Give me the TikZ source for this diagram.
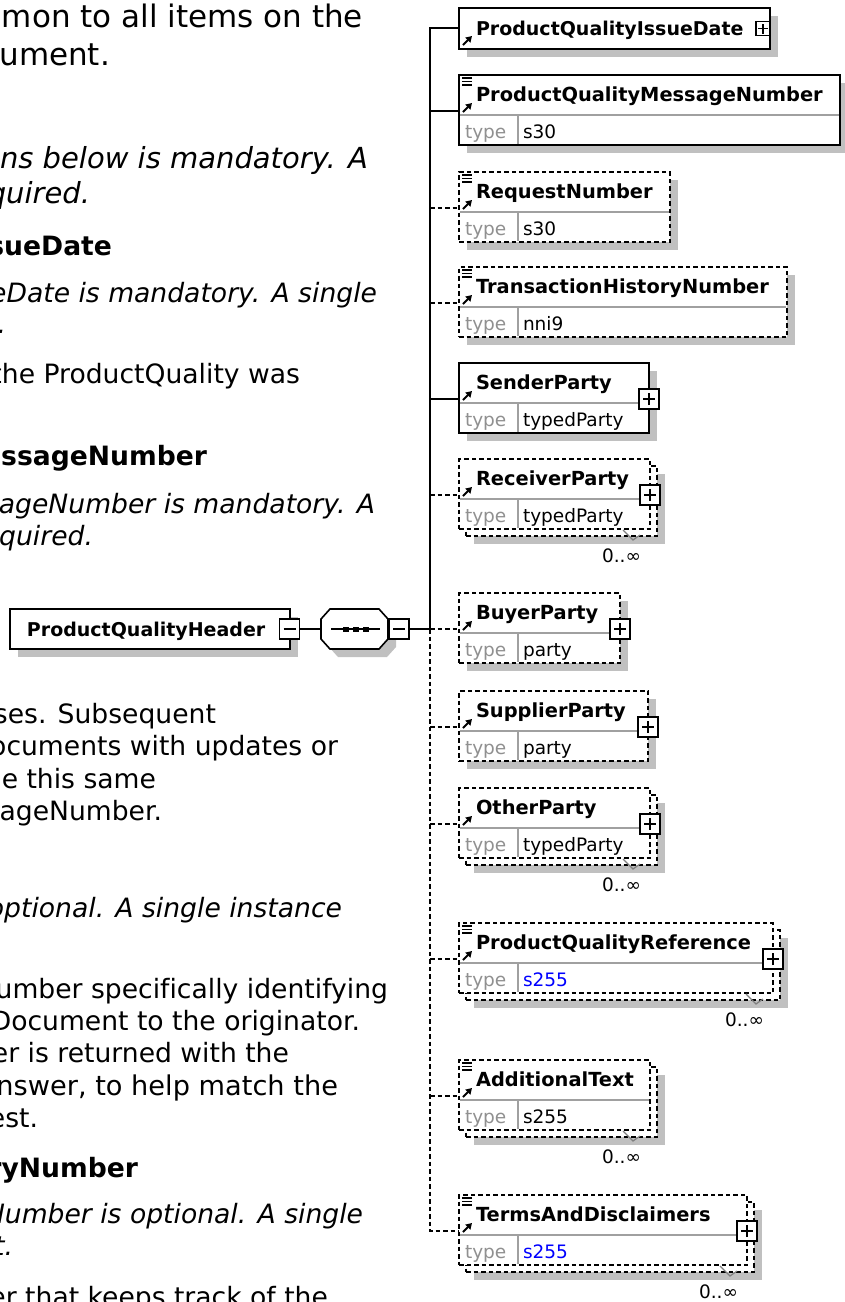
\documentclass[tikz,border=0pt]{standalone}
\usepackage{fontspec}
\setmainfont{DejaVu Sans}[Ligatures=NoCommon]
\usetikzlibrary{arrows.meta}
\definecolor{shadowc}{HTML}{C0C0C0}
\definecolor{divc}{HTML}{A0A0A0}
\definecolor{tickc}{HTML}{808080}
\definecolor{typec}{HTML}{909090}
\definecolor{bluec}{HTML}{0000FF}
\tikzset{
  every node/.style={inner sep=0pt, outer sep=0pt},
  solidb/.style={draw=black, line width=1.8pt, fill=white},
  dashb/.style={draw=black, line width=1.6pt, fill=white, dash pattern=on 4.5pt off 3pt},
  conn/.style={draw=black, line width=1.8pt},
  dconn/.style={draw=black, line width=1.8pt, dash pattern=on 4.5pt off 3pt},
  divline/.style={draw=divc, line width=1.3pt},
  vtick/.style={draw=tickc, line width=1.2pt},
  nametext/.style={anchor=base west, font=\fontsize{19.4}{22}\selectfont\bfseries},
  typetext/.style={anchor=base west, font=\fontsize{18.5}{22}\selectfont, text=typec},
  valtext/.style={anchor=base west, font=\fontsize{18.5}{22}\selectfont},
  occtext/.style={anchor=base east, font=\fontsize{18.5}{22}\selectfont},
  pmbox/.style={draw=black, line width=1.4pt, fill=white, minimum size=20pt},
  pmsign/.style={draw=black, line width=1.4pt},
  refarrow/.style={draw=black, line width=2pt, -{Triangle[length=6pt,width=7pt]}},
  eqicon/.style={draw=black, line width=1.1pt},
  bodyr/.style={anchor=base east, font=\fontsize{26.6}{32}\selectfont},
  bodyi/.style={anchor=base east, font=\fontsize{26.6}{32}\selectfont\itshape},
  bodyb/.style={anchor=base east, font=\fontsize{26.6}{32}\selectfont\bfseries},
}
% element box with name row and type row
\newcommand{\TwoRow}[6]{%
  \node[#4, anchor=north west, minimum width={#3-459}, minimum height=70] (#1) at (459,#2) {};
  \draw[divline] (460,#2+40) -- (#3-1,#2+40);
  \draw[divline] (518,#2+40) -- (518,#2+69);
  \node[nametext] (#1-n) at (476,#2+26) {#5};
  \node[typetext] (#1-t) at (465,#2+63) {type};
  \node[valtext] (#1-v) at (523,#2+63) {#6};
  \draw[refarrow] (463,#2+37) -- (472,#2+28);
}
\newcommand{\BackBox}[4]{%
  \fill[shadowc] (474,#2+15) rectangle (#3+15,#2+85);
  \node[#4, anchor=north west, minimum width={#3-459}, minimum height=70] (#1-b) at (466,#2+7) {};
}
\newcommand{\PlainShadow}[2]{\fill[shadowc] (467,#1+8) rectangle (#2+8,#1+78);}
\newcommand{\Occ}[3]{%
  \draw[vtick] (#3-27,#2+71) -- (#3-17,#2+81) -- (#3-10,#2+76);
  \node[occtext] (#1-o) at (#3-9,#2+103) {0..∞};
}
\newcommand{\PlusBox}[3]{%
  \node[pmbox] (#1) at (#2,#3) {};
  \draw[pmsign] ([xshift=-6pt]#1.center) -- ([xshift=6pt]#1.center)
                ([yshift=-6pt]#1.center) -- ([yshift=6pt]#1.center);
}
\newcommand{\MinusBox}[3]{%
  \node[pmbox] (#1) at (#2,#3) {};
  \draw[pmsign] ([xshift=-6pt]#1.center) -- ([xshift=6pt]#1.center);
}
\newcommand{\EqIcon}[1]{%
  \draw[eqicon] (462,#1+3) -- (472,#1+3) (462,#1+6.5) -- (472,#1+6.5) (462,#1+10) -- (472,#1+10);
}
\begin{document}
\begin{tikzpicture}[x=1pt,y=-1pt]
\useasboundingbox (0,0) rectangle (845,1302);
\fill[white] (0,0) rectangle (845,1302);

% ---------------- left column text ----------------
\node[bodyr, font=\fontsize{31}{38}\selectfont] (b1) at (363,27) {mon to all items on the};
\node[bodyr, font=\fontsize{31}{38}\selectfont] (b2) at (110,65) {ument.};
\node[bodyi, font=\fontsize{29}{35}\selectfont\itshape] (b3) at (368,168) {ns below is mandatory. A};
\node[bodyi, font=\fontsize{29}{35}\selectfont\itshape] (b4) at (90,203) {quired.};
\node[bodyb] (b5) at (112,255) {sueDate};
\node[bodyi] (b6) at (377,302) {eDate is mandatory. A single};
\node[bodyi] (b7) at (6,333) {.};
\node[bodyr] (b8) at (300,383) {the ProductQuality was};
\node[bodyb] (b9) at (207,465) {essageNumber};
\node[bodyi] (b10) at (375,513) {ageNumber is mandatory. A};
\node[bodyi] (b11) at (93,545) {equired.};
\node[bodyr] (b12) at (216,723) {ses. Subsequent};
\node[bodyr] (b13) at (338,755) {ocuments with updates or};
\node[bodyr] (b14) at (156,788) {e this same};
\node[bodyr] (b15) at (162,820) {ageNumber.};
\node[bodyi] (b16) at (342,917) {optional. A single instance};
\node[bodyr] (b17) at (388,998) {umber specifically identifying};
\node[bodyr] (b18) at (360,1030) {Document to the originator.};
\node[bodyr] (b19) at (289,1062) {er is returned with the};
\node[bodyr, font=\fontsize{27.2}{32}\selectfont] (b20) at (338,1095) {nswer, to help match the};
\node[bodyr] (b21) at (38,1127) {est.};
\node[bodyb] (b22) at (138,1177) {ryNumber};
\node[bodyi] (b23) at (363,1223) {Number is optional. A single};
\node[bodyi] (b24) at (13,1255) {t.};
\node[bodyr] (b25) at (328,1306) {er that keeps track of the};

% ---------------- header and sequence ----------------
\fill[shadowc] (18,617) rectangle (298,657);
\node[solidb, anchor=north west, minimum width=280, minimum height=40] (hdr) at (10,609) {};
\node[nametext, font=\fontsize{19}{22}\selectfont\bfseries] (hdr-n) at (27,636) {ProductQualityHeader};
\MinusBox{hdrm}{289.5}{629}

\fill[shadowc] (338,617) -- (387,617) -- (396,627) -- (396,647) -- (387,657) -- (338,657) -- (329,647) -- (329,627) -- cycle;
\node[minimum width=67, minimum height=40] (seq) at (354.5,629) {};
\draw[fill=white, line width=1.6pt] (330,609) -- (379,609) -- (388,619) -- (388,639) -- (379,649) -- (330,649) -- (321,639) -- (321,619) -- cycle;
\draw[line width=1.4pt] (331,629) -- (380,629);
\fill (343,626.5) rectangle (349,631.5);
\fill (353,626.5) rectangle (359,631.5);
\fill (363,626.5) rectangle (369,631.5);
\MinusBox{seqm}{399}{629}

\coordinate (j) at (430,629);
\draw[conn] (hdrm.east) -- (seq.west);
\draw[conn] (seqm.east) -- (j);

% trunk coordinates
\coordinate (k1) at (430,28);
\coordinate (k2) at (430,111);
\coordinate (k3) at (430,208);
\coordinate (k4) at (430,303);
\coordinate (k5) at (430,399);
\coordinate (k6) at (430,495);
\coordinate (k8) at (430,727);
\coordinate (k9) at (430,824);
\coordinate (k10) at (430,959);
\coordinate (k11) at (430,1096);
\coordinate (k12) at (430,1231);

% ---------------- child elements ----------------
% 1 ProductQualityIssueDate
\fill[shadowc] (467,16) rectangle (778,57);
\node[solidb, anchor=north west, minimum width=311, minimum height=41] (iss) at (459,8) {};
\node[nametext, font=\fontsize{19}{22}\selectfont\bfseries] (iss-n) at (476,35) {ProductQualityIssueDate};
\draw[refarrow] (463,45) -- (472,36);
\node[pmbox, minimum size=14pt] (iss-p) at (763,28.5) {};
\draw[pmsign] ([xshift=-5pt]iss-p.center) -- ([xshift=5pt]iss-p.center)
              ([yshift=-5pt]iss-p.center) -- ([yshift=5pt]iss-p.center);

% 2 ProductQualityMessageNumber
\PlainShadow{75}{840}
\TwoRow{msg}{75}{840}{solidb}{ProductQualityMessageNumber}{s30}
\EqIcon{75}

% 3 RequestNumber
\PlainShadow{172}{670}
\TwoRow{req}{172}{670}{dashb}{RequestNumber}{s30}
\EqIcon{172}

% 4 TransactionHistoryNumber
\PlainShadow{267}{787}
\TwoRow{thn}{267}{787}{dashb}{TransactionHistoryNumber}{nni9}
\EqIcon{267}

% 5 SenderParty
\PlainShadow{363}{649}
\TwoRow{snd}{363}{649}{solidb}{SenderParty}{typedParty}
\PlusBox{snd-p}{649}{399}

% 6 ReceiverParty
\BackBox{rcv}{459}{650}{dashb}
\TwoRow{rcv}{459}{650}{dashb}{ReceiverParty}{typedParty}
\Occ{rcv}{459}{650}
\PlusBox{rcv-p}{650}{495}

% 7 BuyerParty
\PlainShadow{593}{620}
\TwoRow{buy}{593}{620}{dashb}{BuyerParty}{party}
\PlusBox{buy-p}{620}{629}

% 8 SupplierParty
\PlainShadow{691}{648}
\TwoRow{sup}{691}{648}{dashb}{SupplierParty}{party}
\PlusBox{sup-p}{648}{727}

% 9 OtherParty
\BackBox{oth}{788}{650}{dashb}
\TwoRow{oth}{788}{650}{dashb}{OtherParty}{typedParty}
\Occ{oth}{788}{650}
\PlusBox{oth-p}{650}{824}

% 10 ProductQualityReference
\BackBox{pqr}{923}{773}{dashb}
\TwoRow{pqr}{923}{773}{dashb}{ProductQualityReference}{\textcolor{bluec}{s255}}
\EqIcon{923}
\Occ{pqr}{923}{773}
\PlusBox{pqr-p}{773}{959}

% 11 AdditionalText
\BackBox{adt}{1060}{650}{dashb}
\TwoRow{adt}{1060}{650}{dashb}{AdditionalText}{s255}
\EqIcon{1060}
\Occ{adt}{1060}{650}

% 12 TermsAndDisclaimers
\BackBox{tad}{1195}{747}{dashb}
\TwoRow{tad}{1195}{747}{dashb}{TermsAndDisclaimers}{\textcolor{bluec}{s255}}
\EqIcon{1195}
\Occ{tad}{1195}{747}
\PlusBox{tad-p}{747}{1231}

% ---------------- connectors ----------------
\draw[conn] (iss.west |- k1) -- (k1) -- (j);
\draw[conn] (k2) -- (msg.west |- k2);
\draw[dconn] (k3) -- (req.west |- k3);
\draw[dconn] (k4) -- (thn.west |- k4);
\draw[conn] (k5) -- (snd.west |- k5);
\draw[dconn] (k6) -- (rcv.west |- k6);
\draw[dconn] (j) -- (buy.west |- j);
\draw[dconn] (j) -- (k12) -- (tad.west |- k12);
\draw[dconn] (k8) -- (sup.west |- k8);
\draw[dconn] (k9) -- (oth.west |- k9);
\draw[dconn] (k10) -- (pqr.west |- k10);
\draw[dconn] (k11) -- (adt.west |- k11);
\end{tikzpicture}
\end{document}
